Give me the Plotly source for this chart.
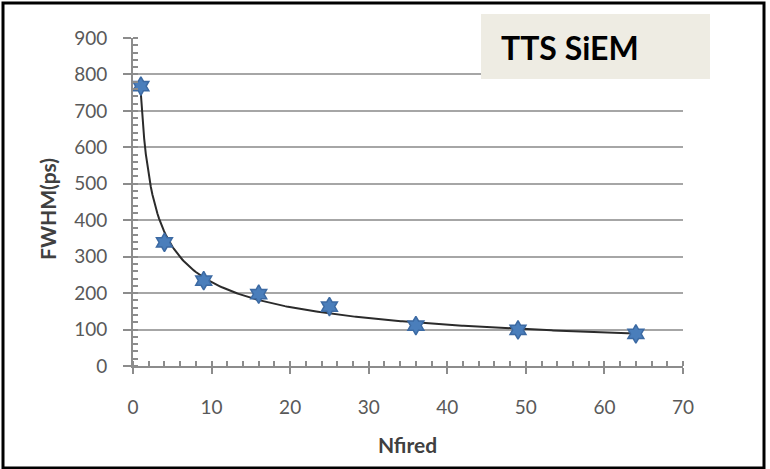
import numpy as np
import plotly.graph_objects as go

# Measured timing resolution vs. number of fired cells
nfired = [1, 4, 9, 16, 25, 36, 49, 64]
fwhm_ps = [768, 339, 234, 197, 163, 111, 99, 88]

x_ticks = [0, 10, 20, 30, 40, 50, 60, 70]
y_ticks = [0, 100, 200, 300, 400, 500, 600, 700, 800, 900]

# Power-law trendline fitted in log space
b, log_a = np.polyfit(np.log(nfired), np.log(fwhm_ps), 1)
x_fit = np.linspace(min(nfired), max(nfired), 300)
y_fit = np.exp(log_a) * x_fit ** b

W, H = 770, 469
L, R, T, B = 133, 683, 38, 366  # plot area in pixels


def px(x):
    return (x - L) / (R - L)


def py(y):
    return (B - y) / (B - T)


fig = go.Figure()
fig.add_trace(go.Scatter(
    x=x_fit, y=y_fit, mode="lines",
    line=dict(color="#2b2b2b", width=2),
    hoverinfo="skip", showlegend=False,
))
fig.add_trace(go.Scatter(
    x=nfired, y=fwhm_ps, mode="markers",
    marker=dict(symbol="hexagram", size=14, color="#4a7ebb",
                line=dict(color="#3c6aa3", width=1.5)),
    showlegend=False,
))

tick_font = dict(family="Lato, 'Open Sans', sans-serif", size=19, color="#595959")
title_font = dict(family="Lato, 'Open Sans', sans-serif", size=21, color="#404040")

fig.update_xaxes(
    range=[0, 70], tickvals=x_ticks, showgrid=False, zeroline=False,
    showline=True, linecolor="#8c8c8c", linewidth=2,
    ticks="outside", ticklen=6, tickcolor="#8c8c8c", tickwidth=2,
    minor=dict(ticks="inside", dtick=2, ticklen=5, tickcolor="#8c8c8c", tickwidth=1.5),
    tickfont=tick_font, ticklabelstandoff=17,
)
fig.update_yaxes(
    range=[0, 900], tickvals=y_ticks, showgrid=True, gridcolor="#a6a6a6", gridwidth=2,
    zeroline=False, showline=True, linecolor="#8c8c8c", linewidth=2,
    ticks="outside", ticklen=8, tickcolor="#8c8c8c", tickwidth=2,
    minor=dict(ticks="inside", dtick=20, ticklen=5, tickcolor="#8c8c8c", tickwidth=1.5, showgrid=False),
    tickfont=tick_font, ticklabelstandoff=12,
)

shapes = [
    # outer frame
    dict(type="rect", xref="paper", yref="paper",
         x0=px(3), x1=px(764), y0=py(468), y1=py(3),
         line=dict(color="black", width=3), fillcolor="rgba(0,0,0,0)", layer="above"),
    # label box
    dict(type="rect", xref="paper", yref="paper",
         x0=px(481), x1=px(710), y0=py(79), y1=py(14),
         line=dict(width=0), fillcolor="#eeece3", layer="above"),
]

annotations = [
    dict(text="<b>TTS SiEM</b>", xref="paper", yref="paper",
         x=px(499), y=py(47), xanchor="left", yanchor="middle", showarrow=False,
         font=dict(family="Lato, 'Open Sans', sans-serif", size=32, color="black")),
    dict(text="<b>FWHM(ps)</b>", xref="paper", yref="paper",
         x=px(47), y=py(209), xanchor="center", yanchor="middle", textangle=-90,
         showarrow=False, font=title_font),
    dict(text="<b>Nfired</b>", xref="paper", yref="paper",
         x=px(407), y=py(445), xanchor="center", yanchor="middle",
         showarrow=False, font=title_font),
]

fig.update_layout(
    width=W, height=H,
    margin=dict(l=L, r=W - R, t=T, b=H - B),
    paper_bgcolor="white", plot_bgcolor="white",
    shapes=shapes, annotations=annotations,
)

fig.write_html("out.html")
